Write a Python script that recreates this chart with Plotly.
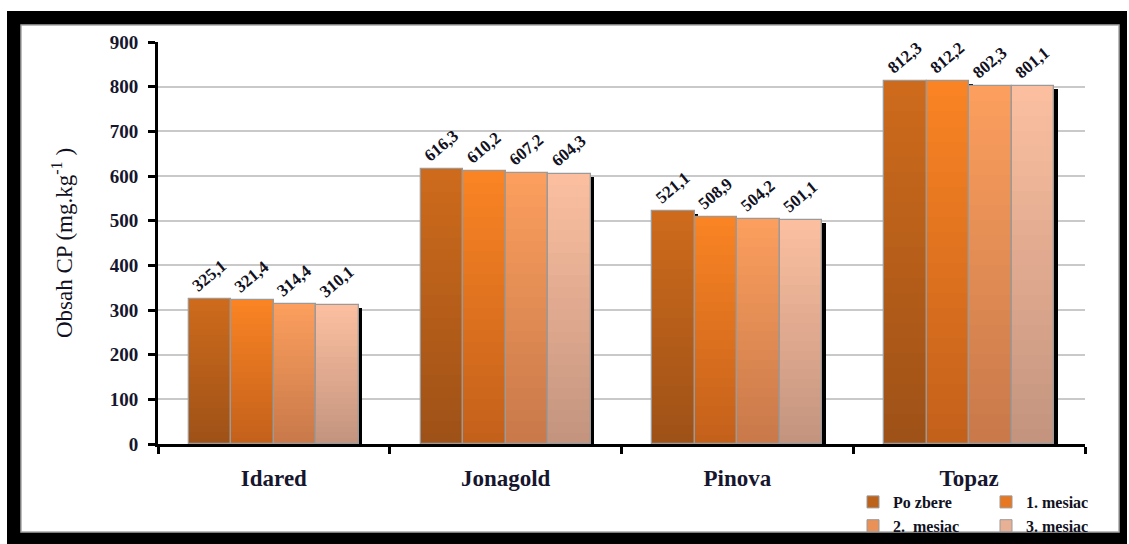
import plotly.graph_objects as go

# Cultivars and storage stages
cultivars = ["Idared", "Jonagold", "Pinova", "Topaz"]
stages = ["Po zbere", "1. mesiac", "2.\u00a0 mesiac", "3. mesiac"]

# Obsah CP (mg.kg-1) for each storage stage
po_zbere = [325.1, 616.3, 521.1, 812.3]
mesiac_1 = [321.4, 610.2, 508.9, 812.2]
mesiac_2 = [314.4, 607.2, 504.2, 802.3]
mesiac_3 = [310.1, 604.3, 501.1, 801.1]
series = [po_zbere, mesiac_1, mesiac_2, mesiac_3]

# Gradient end colours (top, bottom) per stage
top_colors = ["#CE6B1C", "#FB8424", "#FC9F5E", "#FCC0A0"]
bottom_colors = ["#9E5117", "#C2601A", "#C8784A", "#C3937E"]

# legend column for each stage (two columns, two rows)
legend_of = ["legend", "legend2", "legend", "legend2"]

W, H = 1129, 544
ML, MR, MT, MB = 158, 44, 42, 100
PW, PH = W - ML - MR, H - MT - MB


def hex_to_rgb(h):
    h = h.lstrip("#")
    return tuple(int(h[i:i + 2], 16) for i in (0, 2, 4))


def mix(c1, c2, t):
    a, b = hex_to_rgb(c1), hex_to_rgb(c2)
    return "rgb(%d,%d,%d)" % tuple(round(a[i] + (b[i] - a[i]) * t) for i in range(3))


def px_x(p):
    return (p - ML) / PW


def px_y(p):
    return (H - MB - p) / PH


n_series = len(series)
bar_w = 0.1834
group_w = bar_w * n_series
offsets = [-group_w / 2 + i * bar_w for i in range(n_series)]

units_per_px_y = 900 / PH
cat_per_px = 1 / (PW / len(cultivars))

fig = go.Figure()

# drop shadows behind the bars
for i, vals in enumerate(series):
    fig.add_trace(go.Bar(
        x=cultivars, y=[v - 3 * units_per_px_y for v in vals],
        width=bar_w, offset=offsets[i] + 3.5 * cat_per_px,
        marker=dict(color="#000000", line=dict(width=0)),
        showlegend=False, hoverinfo="skip"))

# vertical gradient built from stacked slices
N = 24
for i, vals in enumerate(series):
    for k in range(N):
        t = 1 - (k + 0.5) / N  # 1 at bottom, 0 at top
        fig.add_trace(go.Bar(
            x=cultivars, y=[v / N for v in vals],
            base=[v * k / N for v in vals],
            width=bar_w, offset=offsets[i],
            marker=dict(color=mix(top_colors[i], bottom_colors[i], t), line=dict(width=0)),
            showlegend=False, hoverinfo="skip"))

# outlines and value labels
for i, vals in enumerate(series):
    fig.add_trace(go.Bar(
        x=cultivars, y=vals, width=bar_w, offset=offsets[i],
        marker=dict(color="rgba(0,0,0,0)", line=dict(color="#9A9A9A", width=1.3)),
        text=[f"{v:.1f}".replace(".", ",") for v in vals],
        textposition="outside", textangle=-40, cliponaxis=False,
        textfont=dict(family="Liberation Serif", size=17, color="#111122", weight="bold"),
        showlegend=False, name=stages[i]))

# legend entries
for i in range(n_series):
    fig.add_trace(go.Bar(
        x=[cultivars[0]], y=[None], name=stages[i], legend=legend_of[i],
        marker=dict(color=mix(top_colors[i], bottom_colors[i], 0.35),
                    line=dict(color="#9A9A9A", width=1)),
        showlegend=True))

shapes = [
    dict(type="rect", xref="paper", yref="paper", layer="below",
         x0=px_x(7), x1=px_x(1127), y0=px_y(544), y1=px_y(11),
         fillcolor="#000000", line=dict(width=0)),
    dict(type="rect", xref="paper", yref="paper", layer="below",
         x0=px_x(21), x1=px_x(1119), y0=px_y(532), y1=px_y(25),
         fillcolor="#FFFFFF", line=dict(color="#A8A8A8", width=1.5)),
]

legend_font = dict(family="Liberation Serif", size=16, color="#111122", weight="bold")

fig.update_layout(
    width=W, height=H,
    margin=dict(l=ML, r=MR, t=MT, b=MB, autoexpand=False),
    paper_bgcolor="#FFFFFF",
    plot_bgcolor="#FDEBD9",
    barmode="overlay",
    bargap=0,
    shapes=shapes,
    font=dict(family="Liberation Serif", color="#16162E"),
    showlegend=True,
    legend=dict(orientation="v", x=px_x(853), y=px_y(485), xanchor="left", yanchor="top",
                font=legend_font, bgcolor="rgba(0,0,0,0)", itemwidth=30,
                traceorder="normal", tracegroupgap=0),
    legend2=dict(orientation="v", x=px_x(986), y=px_y(485), xanchor="left", yanchor="top",
                 font=legend_font, bgcolor="rgba(0,0,0,0)", itemwidth=30,
                 traceorder="normal", tracegroupgap=0),
    xaxis=dict(
        type="category", range=[-0.5, 3.5],
        showline=True, linecolor="#000000", linewidth=3,
        ticks="outside", tickson="boundaries", ticklen=7, tickwidth=2.5, tickcolor="#000000",
        tickfont=dict(family="Liberation Serif", size=23, color="#16162E", weight="bold"),
        showgrid=False, zeroline=False, ticklabelstandoff=11),
    yaxis=dict(
        range=[0, 900], dtick=100,
        showline=True, linecolor="#000000", linewidth=3,
        ticks="outside", ticklen=7, tickwidth=2.5, tickcolor="#000000",
        tickfont=dict(family="Liberation Serif", size=19, color="#16162E", weight="bold"),
        ticklabelstandoff=6,
        showgrid=True, gridcolor="#C9C9C9", gridwidth=1.5, zeroline=False,
        title=dict(text="Obsah CP (mg.kg<sup>-1</sup> )",
                   font=dict(family="Liberation Serif", size=23, color="#111122"),
                   standoff=31)),
)

fig.write_html("out.html")
